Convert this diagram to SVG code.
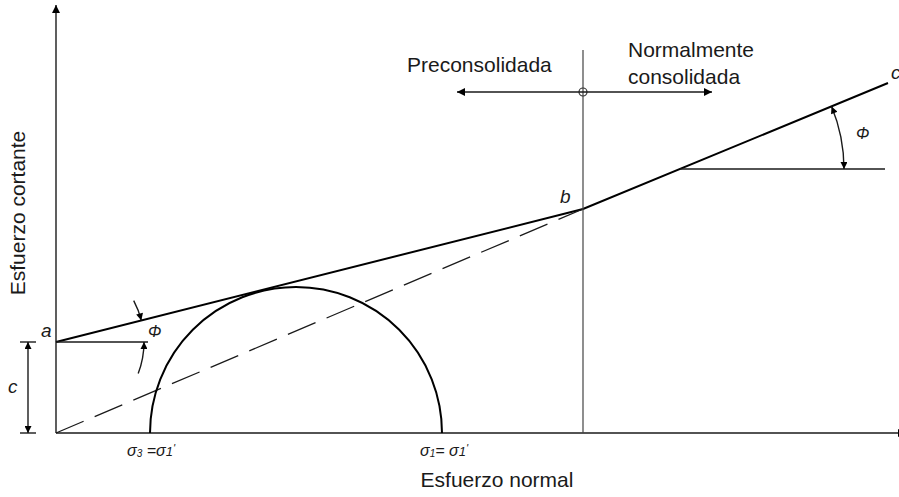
<svg xmlns="http://www.w3.org/2000/svg" width="899" height="497" viewBox="0 0 899 497">
<style>
.ln{fill:none;stroke:#1a1a1a;stroke-width:1.4}
.thk{fill:none;stroke:#000;stroke-width:2}
.thin{fill:none;stroke:#444;stroke-width:1.2}
.lbl{font-family:"Liberation Sans",Arial,sans-serif;font-size:21px;fill:#1a1a1a}
.it{font-family:"Liberation Sans",Arial,sans-serif;font-style:italic;font-size:19px;fill:#1a1a1a}
.sg{font-family:"Liberation Sans",Arial,sans-serif;font-style:italic;font-size:16px;fill:#1a1a1a}
</style>
<defs>
<marker id="ah" viewBox="0 0 10 10" refX="10" refY="5" markerUnits="userSpaceOnUse" markerWidth="14" markerHeight="8" orient="auto-start-reverse">
<path d="M0,0 L10,5 L0,10 z" fill="#000"/>
</marker>
<marker id="ahs" viewBox="0 0 10 10" refX="10" refY="5" markerUnits="userSpaceOnUse" markerWidth="13" markerHeight="7" orient="auto-start-reverse">
<path d="M0,0 L10,5 L0,10 z" fill="#000"/>
</marker>
</defs>
<rect width="899" height="497" fill="#fff"/>

<g id="axes">
<line class="ln" x1="56" y1="433" x2="56" y2="5" marker-end="url(#ah)"/>
<line class="ln" x1="56" y1="433" x2="906" y2="433" marker-end="url(#ah)"/>
</g>

<g id="connectors">
<path id="envelope" class="thk" d="M56,342 L583,209 L888,83"/>
<line id="dashed" x1="56" y1="433" x2="583" y2="209" stroke="#1a1a1a" stroke-width="1.3" stroke-dasharray="30,12"/>
<path id="circle" class="thk" d="M150,433 A146,146 0 0 1 442,433"/>
<line id="divider" class="thin" x1="583" y1="50" x2="583" y2="433"/>
<circle cx="583" cy="92" r="4" fill="none" stroke="#333" stroke-width="1.2"/>
<line class="ln" x1="583" y1="92" x2="457" y2="92" marker-end="url(#ah)"/>
<line class="ln" x1="583" y1="92" x2="712" y2="92" marker-end="url(#ah)"/>
<line class="ln" x1="56" y1="342" x2="148" y2="342"/>
<line class="ln" x1="680" y1="169" x2="885" y2="169"/>
<line class="ln" x1="20" y1="342" x2="36" y2="342"/>
<line class="ln" x1="20" y1="433" x2="36" y2="433"/>
<line class="ln" x1="28" y1="342" x2="28" y2="433" marker-start="url(#ahs)" marker-end="url(#ahs)"/>
<path class="ln" d="M133.7,300.7 A88,88 0 0 1 141.3,320.4" marker-end="url(#ahs)"/>
<path class="ln" d="M138.2,373.5 A88,88 0 0 0 144,342" marker-end="url(#ahs)"/>
<path class="ln" d="M831.6,106.5 A164,164 0 0 1 844,169" marker-start="url(#ahs)" marker-end="url(#ahs)"/>
</g>

<g id="labels">
<text class="lbl" transform="translate(25,213) rotate(-90)" text-anchor="middle">Esfuerzo cortante</text>
<text class="lbl" x="497" y="487" text-anchor="middle">Esfuerzo normal</text>
<text class="lbl" x="407" y="72">Preconsolidada</text>
<text class="lbl" x="628" y="57">Normalmente</text>
<text class="lbl" x="628" y="84">consolidada</text>
<text class="it" x="41" y="337">a</text>
<text class="it" x="8" y="393">c</text>
<text class="it" x="560" y="203">b</text>
<text class="it" x="891" y="79">c</text>
<text class="sg" x="148" y="337" font-size="15">Φ</text>
<text class="sg" x="856" y="139" font-size="15">Φ</text>
<text class="sg" x="127" y="456">σ<tspan font-size="10" dy="1">3</tspan><tspan dy="-1"> =</tspan>σ<tspan font-size="13">1</tspan><tspan font-size="11" dy="-4">'</tspan></text>
<text class="sg" x="420" y="456">σ<tspan font-size="10" dy="1">1</tspan><tspan dy="-1">= </tspan>σ<tspan font-size="13">1</tspan><tspan font-size="11" dy="-4">'</tspan></text>
</g>
</svg>
